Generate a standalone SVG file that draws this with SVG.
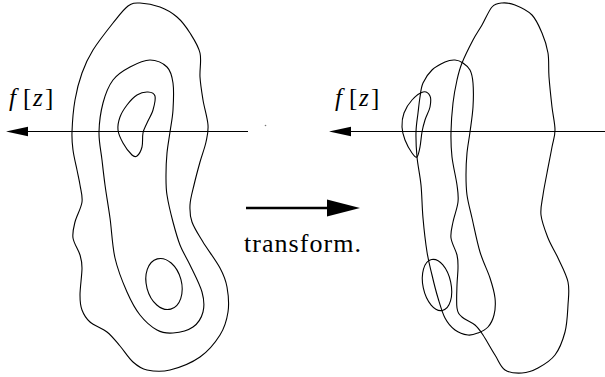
<svg xmlns="http://www.w3.org/2000/svg" width="605" height="377" viewBox="0 0 605 377">
<style>
.c{fill:none;stroke:#000;stroke-width:1.1}
.ax{fill:none;stroke:#000;stroke-width:1.1}
.hd{fill:#000;stroke:none}
.lb{fill:#000}
.it{font-style:italic}
</style>
<rect width="605" height="377" fill="#fff"/>
<g id="left-figure">
<path class="c" d="M140,3 C145.3,3.2 153.8,4.7 160,7 S172,12.7 177,17 S186.2,27 190,33 S198.3,45.7 200,53 S199.5,69.2 200,77 S201.7,92 203,100 S207.5,118 208,125 S207.3,135.8 206,142 S202,154.8 200,162 S195.7,177.8 194,185 S190.3,198.8 190,205 S189.8,215.8 192,222 S198.3,234.3 203,242 S216,260.5 220,268 S225.7,279.7 227,287 S229.2,304 228,312 S224.7,327.5 220,335 S208.3,351.2 200,357 S178.8,367.8 170,370 S153.2,371.3 147,370 S137.5,366 133,362 S124.3,351 120,346 S112,336 107,332 S94.2,325.7 90,322 S83.7,314.5 82,310 S80,302 80,295 S82,274.7 82,268 S81.5,260 80,255 S73.8,243.5 73,238 S73.5,228 75,222 S81.2,208.2 82,202 S80.8,190.3 80,185 S78.2,175.8 77,170 S73.8,156.3 73,150 S71.7,140.3 72,132 S73.3,109.8 75,100 S79,81.3 82,73 S87.8,58.3 93,50 S107.2,30.3 113,23 S123.5,9.3 128,6 S134.7,2.8 140,3 Z"/>
<path class="c" d="M150,60 C156.2,60 163.2,63.2 167,67 S172,75.8 173,83 S173.5,101.8 173,110 S171,124.8 170,132 S167.7,145.8 167,153 S166,168 166,175 S165.8,187.2 167,195 S170.8,213.7 173,222 S177.2,237.8 180,245 S186.3,257.2 190,265 S199.8,284.2 202,292 S204.5,306.2 203,312 S198,323.5 193,327 S179,332.5 173,333 S162.5,333 157,330 S145,321.3 140,315 S131.2,301.5 127,292 S117.8,270.3 115,258 S111.7,230.2 110,218 S106.3,194.7 105,185 S103,168.8 102,160 S98.8,141.5 99,132 S100.7,111.7 103,103 S108.5,86 113,80 S123.8,70.3 130,67 S143.8,60 150,60 Z"/>
<path class="c" d="M148,92 C151,92.2 154.2,93 155,96 S154.3,105.5 153,110 S148.7,119.2 147,123 S143.8,129 143,133 S143,143.2 142,147 S138.7,154.7 137,156 S134.3,157.2 132,155 S125.3,147.2 123,143 S118.5,134.3 118,130 S118.5,121.2 120,117 S124.2,108.7 127,105 S133.5,97.2 137,95 S145,91.8 148,92 Z"/>
<ellipse class="c" cx="164" cy="284" rx="17.5" ry="26" transform="rotate(-15 164 284)"/>
</g>
<g id="right-figure">
<path class="c" d="M502,3 C505.8,2.7 510,3 515,5 S527.5,10.3 532,15 S539.3,26.7 542,33 S546.8,45.7 548,53 S548.3,68 549,77 S551,98.2 552,107 S555,123.3 555,130 S553.3,139.8 552,147 S548.5,165 547,173 S544,188 543,195 S540.2,207.8 541,215 S545.2,230.8 548,238 S554.7,250.7 558,258 S566.3,274.2 568,282 S568.5,296.7 568,305 S567.2,323.7 565,332 S559.5,349 555,355 S543.5,365 538,368 S527.5,372.7 522,373 S509.5,373 505,370 S498.7,360.8 495,355 S486.3,340 483,335 S478.5,328 475,325 S465,319.8 462,317 S457.8,313.3 457,308 S456.8,291.7 457,285 S458,273 458,268 S458.2,260 457,255 S451.7,243.5 451,238 S451.8,228 453,222 S457.3,208.2 458,202 S458,192.5 457,185 S453,165.8 452,157 S450.8,141 451,132 S452,111.7 453,103 S455.5,86.7 457,80 S459.3,69.7 462,63 S469.7,46.3 473,40 S478.8,30.5 482,25 S488.7,10.7 492,7 S498.2,3.3 502,3 Z"/>
<path class="c" d="M455,60 C458,60.2 460.5,61.3 463,63 S468.3,66.7 470,70 S472.5,76.8 473,83 S473.5,98.8 473,107 S471,124.3 470,132 S467.7,145.8 467,153 S466,168 466,175 S466,187.8 467,195 S469.8,208.5 472,218 S477,242 480,252 S487.5,270.3 490,278 S494.3,291.8 495,298 S495.2,310.2 494,315 S490.7,324 488,327 S481.3,331.7 478,333 S471.8,335.5 468,335 S458.8,332.8 455,330 S447.8,323.3 445,318 S440.2,305.2 438,298 S433.8,282.7 432,275 S428.5,261.5 427,252 S424,229.2 423,218 S422,195.2 421,185 S417.8,165.8 417,157 S415.8,139.3 416,132 S417.3,118.8 418,113 S419.2,102 420,97 S421,87.5 423,83 S428.3,73.5 432,70 S441.2,63.7 445,62 S452,59.8 455,60 Z"/>
<path class="c" d="M423,92 C426,91.3 428.8,93.5 430,96 S430.8,103 430,107 S426.3,115.8 425,120 S422.8,127.5 422,132 S420.8,142.8 420,147 S418.3,156 417,157 S414,155.8 412,153 S406.7,144.3 405,140 S402.2,131.5 402,127 S402.3,117.5 404,113 S408.8,103.5 412,100 S420,92.7 423,92 Z"/>
<ellipse class="c" cx="437" cy="285" rx="14" ry="26" transform="rotate(-12 437 285)"/>
</g>
<g id="connectors">
<line class="ax" x1="248" y1="131.5" x2="27" y2="131.5"/>
<polygon class="hd" points="6,131.5 28,126.8 28,136.2"/>
<line class="ax" x1="605" y1="131.5" x2="350" y2="131.5"/>
<polygon class="hd" points="329,131.5 351,126.8 351,136.2"/>
<line x1="246" y1="208" x2="330" y2="208" stroke="#000" stroke-width="2.5"/>
<polygon class="hd" points="360,208 327,199.5 327,216.5"/>
<circle cx="265.5" cy="125.5" r="0.8" fill="#777"/>
</g>
<g id="labels">
<text class="lb" font-family="'Liberation Serif', 'DejaVu Serif', serif" y="106" font-size="25"><tspan class="it" x="9">f</tspan><tspan x="23">[</tspan><tspan class="it" x="33">z</tspan><tspan x="45">]</tspan></text>
<text class="lb" font-family="'Liberation Serif', 'DejaVu Serif', serif" y="106" font-size="25"><tspan class="it" x="335">f</tspan><tspan x="349">[</tspan><tspan class="it" x="359">z</tspan><tspan x="371">]</tspan></text>
<text class="lb" font-family="'Liberation Serif', 'DejaVu Serif', serif" x="244" y="252" font-size="26" textLength="117" lengthAdjust="spacing">transform.</text>
</g>
</svg>
